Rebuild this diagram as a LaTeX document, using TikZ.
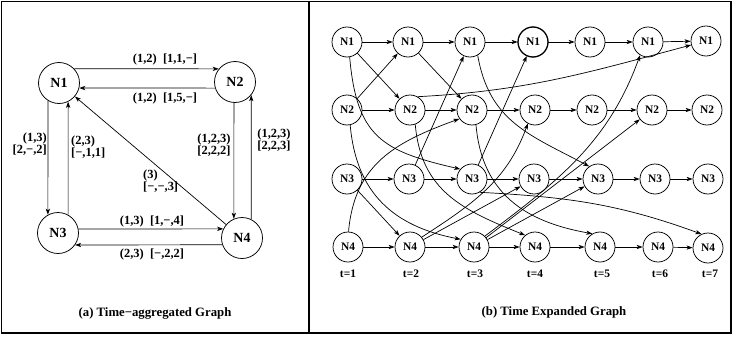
\documentclass[tikz,border=0pt]{standalone}
\usepackage{fontspec}
\setmainfont{Liberation Serif}
\usetikzlibrary{arrows.meta}
\begin{document}
\begin{tikzpicture}[x=1bp,y=1bp,
  bignode/.style={circle,draw,line width=0.75bp,minimum size=41bp,inner sep=0pt,font=\fontsize{14}{16}\selectfont\bfseries},
  smallnode/.style={circle,draw,line width=0.75bp,minimum size=30bp,inner sep=0pt,font=\fontsize{11.5}{13}\selectfont\bfseries},
  arr/.style={line width=0.7bp,-{Stealth[length=6bp,width=4.2bp,inset=1.5bp]}},
  lbl/.style={font=\fontsize{12.5}{11.5}\selectfont\bfseries,inner sep=0pt},
  tlbl/.style={font=\fontsize{11.5}{13}\selectfont\bfseries,inner sep=0pt},
  captext/.style={font=\fontsize{12.8}{14}\selectfont\bfseries,inner sep=0pt}]
\useasboundingbox (0,0) rectangle (733,336);
% frame
\draw[line width=1.2bp] (1.8,3) rectangle (731,334.7);
\draw[line width=1.2bp] (309,3) -- (309,334.7);

% ---------- (a) time-aggregated graph ----------
\node[bignode] (N1) at (59,253) {N1};
\node[bignode] (N2) at (235,254) {N2};
\node[bignode] (N3) at (58,103) {N3};
\node[bignode] (N4) at (242,98) {N4};

\draw[arr] (N1.43) -- (N2.141);
\draw[arr] (N2.197) -- (N1.346);
\draw[arr] (N1.238) -- (N3.119);
\draw[arr] (N3.61) -- (N1.296);
\draw[arr] (N2.267) -- (N4.113);
\draw[arr] (N4.64) -- (N2.321);
\draw[arr] (N4) -- (N1);
\draw[arr] (N3.11) -- (N4.154);
\draw[arr] (N4.199) -- (N3.325);

\node[lbl] (l1) at (165,276) {(1,2)\enspace[1,1,−]};
\node[lbl] (l2) at (165,237) {(1,2)\enspace[1,5,−]};
\node[lbl,align=right,anchor=east] (l3) at (47,192) {(1,3)\\{}[2,−,2]};
\node[lbl,align=left,anchor=west] (l4) at (71,189) {(2,3)\\{}[−,1,1]};
\node[lbl,align=center] (l5) at (214,191) {(1,2,3)\\{}[2,2,2]};
\node[lbl,align=center] (l6) at (274,196) {(1,2,3)\\{}[2,2,3]};
\node[lbl,align=left,anchor=west] (l7) at (143,155) {(3)\\{}[−,−,3]};
\node[lbl] (l8) at (152,114) {(1,3)\enspace[1,−,4]};
\node[lbl] (l9) at (152,81) {(2,3)\enspace[−,2,2]};
\node[captext] (capa) at (155,23) {(a) Time−aggregated Graph};

% ---------- (b) time expanded graph ----------
\foreach \n/\x/\y in {1/347/294,2/408/294,3/470/294,4/533/294,5/590/294,6/648/294,7/706/295}
  \node[smallnode] (a\n) at (\x,\y) {N1};
\foreach \n/\x/\y in {1/347/226,2/410/226,3/472/226,4/535/226,5/592/226,6/652/226,7/707/226}
  \node[smallnode] (b\n) at (\x,\y) {N2};
\foreach \n/\x/\y in {1/347/157,2/409/157,3/472/157,4/534/157,5/598/157,6/655/157,7/708/157}
  \node[smallnode] (c\n) at (\x,\y) {N3};
\foreach \n/\x/\y in {1/348/89,2/410/89,3/474/89,4/535/89,5/600/89,6/658/89,7/708/88}
  \node[smallnode] (d\n) at (\x,\y) {N4};
\draw[line width=1.2bp] (a4) circle (15bp);
\foreach \n/\x in {1/348,2/411,3/475,4/535,5/602,6/660,7/710}
  \node[tlbl] (t\n) at (\x,62) {t=\n};

% waiting arcs
\foreach \r in {a,b,c,d}{
  \foreach \i [evaluate=\i as \j using int(\i+1)] in {1,...,6}
    \draw[arr] (\r\i) -- (\r\j);
}
% N1 -> N2
\draw[arr] (a1) -- (b2);
\draw[arr] (a2) -- (b3);
% N2 -> N1
\draw[arr] (b1) -- (a2);
\draw[arr] (b2.60) to[out=3,in=195] (a7);
% N1 -> N3
\draw[arr] (a1.-80) to[out=-85,in=167,looseness=1.3] (c3.140);
\draw[arr] (a3.-60) to[out=-80,in=152,looseness=1.1] (c5.125);
% N3 -> N1
\draw[arr] (c2) -- (a3);
\draw[arr] (c3) -- (a4);
% N2 -> N4
\draw[arr] (b1.-78) to[out=-85,in=169,looseness=1.1] (d3.150);
\draw[arr] (b2.-70) to[out=-85,in=158,looseness=1.1] (d4.130);
\draw[arr] (b3.-75) to[out=-85,in=170,looseness=1.1] (d5.120);
% N4 -> N2
\draw[arr] (d1.88) to[out=85,in=200,looseness=1.1] (b3.215);
\draw[arr] (d2.40) to[out=33,in=250] (b4.-118);
\draw[arr] (d3) -- (b6);
% N4 -> N1
\draw[arr] (d3.45) to[out=37,in=250] (a6.-121);
% N3 -> N4
\draw[arr] (c1) -- (d2);
\draw[arr] (c3.-60) to[out=-3,in=160] (d7.115);
% N4 -> N3
\draw[arr] (d2) -- (c4);
\draw[arr] (d3) -- (c5);

\node[captext] (capb) at (554,24) {(b) Time Expanded Graph};
\end{tikzpicture}
\end{document}
